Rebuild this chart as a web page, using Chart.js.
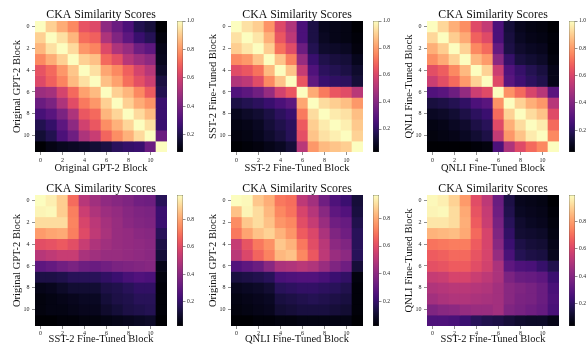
<!DOCTYPE html>
<html>
<head>
<meta charset="utf-8">
<script src="https://cdn.jsdelivr.net/npm/chart.js@4.4.1/dist/chart.umd.min.js"></script>
<style>
html, body { margin: 0; padding: 0; background: #fff; }
#fig { position: relative; width: 587px; height: 346px; overflow: hidden; }
#fig canvas { position: absolute; }
</style>
</head>
<body>
<div id="fig"></div>
<script>
// block indices and tick labels
const blocks = [0, 1, 2, 3, 4, 5, 6, 7, 8, 9, 10, 11];
const blockTicks = [0, 2, 4, 6, 8, 10];
const cbTicksTop = [0.2, 0.4, 0.6, 0.8, 1.0];
const cbTicksBottom = [0.2, 0.4, 0.6, 0.8];

// CKA scores, rows = y-axis block, cols = x-axis block
const origOrig = [
  [1.00, 0.91, 0.84, 0.77, 0.66, 0.63, 0.45, 0.37, 0.30, 0.21, 0.18, 0.08],
  [0.91, 1.00, 0.94, 0.86, 0.72, 0.69, 0.52, 0.42, 0.34, 0.26, 0.22, 0.10],
  [0.86, 0.94, 1.00, 0.93, 0.80, 0.76, 0.63, 0.52, 0.47, 0.38, 0.34, 0.12],
  [0.77, 0.84, 0.91, 1.00, 0.91, 0.88, 0.71, 0.65, 0.54, 0.49, 0.45, 0.13],
  [0.66, 0.71, 0.80, 0.89, 1.00, 0.94, 0.83, 0.77, 0.69, 0.61, 0.54, 0.15],
  [0.63, 0.69, 0.76, 0.87, 0.94, 1.00, 0.88, 0.82, 0.72, 0.65, 0.59, 0.19],
  [0.48, 0.50, 0.61, 0.71, 0.82, 0.87, 1.00, 0.91, 0.86, 0.77, 0.68, 0.21],
  [0.37, 0.41, 0.52, 0.64, 0.74, 0.80, 0.91, 1.00, 0.91, 0.84, 0.79, 0.26],
  [0.29, 0.33, 0.41, 0.52, 0.67, 0.71, 0.86, 0.92, 1.00, 0.93, 0.87, 0.26],
  [0.21, 0.25, 0.34, 0.45, 0.60, 0.67, 0.78, 0.85, 0.92, 1.00, 0.94, 0.26],
  [0.17, 0.21, 0.30, 0.38, 0.52, 0.58, 0.70, 0.78, 0.85, 0.93, 1.00, 0.37],
  [0.08, 0.11, 0.13, 0.14, 0.15, 0.17, 0.19, 0.23, 0.25, 0.26, 0.37, 1.00]
];
const sstSst = [
  [1.00, 0.94, 0.90, 0.78, 0.61, 0.50, 0.26, 0.15, 0.08, 0.07, 0.06, 0.03],
  [0.94, 1.00, 0.95, 0.84, 0.65, 0.53, 0.26, 0.15, 0.09, 0.07, 0.06, 0.04],
  [0.90, 0.95, 1.00, 0.90, 0.71, 0.62, 0.34, 0.17, 0.11, 0.10, 0.09, 0.05],
  [0.76, 0.79, 0.88, 1.00, 0.88, 0.74, 0.44, 0.22, 0.16, 0.14, 0.13, 0.08],
  [0.62, 0.65, 0.71, 0.86, 1.00, 0.88, 0.55, 0.27, 0.19, 0.17, 0.15, 0.11],
  [0.50, 0.53, 0.62, 0.76, 0.88, 1.00, 0.65, 0.31, 0.22, 0.20, 0.19, 0.13],
  [0.27, 0.30, 0.35, 0.44, 0.58, 0.65, 1.00, 0.83, 0.73, 0.65, 0.62, 0.52],
  [0.15, 0.17, 0.19, 0.22, 0.26, 0.30, 0.82, 1.00, 0.93, 0.90, 0.87, 0.79],
  [0.08, 0.10, 0.12, 0.15, 0.19, 0.22, 0.73, 0.93, 1.00, 0.96, 0.94, 0.87],
  [0.06, 0.07, 0.09, 0.13, 0.16, 0.19, 0.66, 0.90, 0.96, 1.00, 0.97, 0.89],
  [0.05, 0.06, 0.08, 0.11, 0.14, 0.18, 0.63, 0.88, 0.94, 0.97, 1.00, 0.91],
  [0.03, 0.04, 0.05, 0.07, 0.09, 0.13, 0.52, 0.79, 0.86, 0.88, 0.90, 1.00]
];
const qnliQnli = [
  [1.00, 0.92, 0.84, 0.77, 0.62, 0.55, 0.27, 0.14, 0.09, 0.07, 0.06, 0.04],
  [0.92, 1.00, 0.90, 0.83, 0.68, 0.62, 0.27, 0.15, 0.10, 0.08, 0.07, 0.05],
  [0.84, 0.90, 1.00, 0.91, 0.76, 0.70, 0.33, 0.16, 0.12, 0.10, 0.09, 0.05],
  [0.77, 0.83, 0.91, 1.00, 0.86, 0.80, 0.42, 0.22, 0.15, 0.13, 0.11, 0.06],
  [0.63, 0.67, 0.76, 0.86, 1.00, 0.91, 0.57, 0.28, 0.22, 0.18, 0.15, 0.08],
  [0.57, 0.63, 0.70, 0.80, 0.91, 1.00, 0.62, 0.30, 0.24, 0.20, 0.17, 0.08],
  [0.28, 0.30, 0.35, 0.44, 0.57, 0.62, 1.00, 0.78, 0.70, 0.60, 0.52, 0.30],
  [0.15, 0.16, 0.18, 0.21, 0.27, 0.30, 0.78, 1.00, 0.91, 0.84, 0.79, 0.52],
  [0.10, 0.11, 0.13, 0.16, 0.20, 0.23, 0.70, 0.91, 1.00, 0.93, 0.88, 0.62],
  [0.07, 0.08, 0.10, 0.12, 0.16, 0.19, 0.62, 0.84, 0.93, 1.00, 0.96, 0.70],
  [0.06, 0.07, 0.08, 0.10, 0.13, 0.16, 0.55, 0.79, 0.88, 0.96, 1.00, 0.76],
  [0.04, 0.04, 0.04, 0.04, 0.05, 0.06, 0.27, 0.50, 0.62, 0.70, 0.76, 1.00]
];
const origSst = [
  [0.98, 0.95, 0.88, 0.68, 0.50, 0.45, 0.41, 0.39, 0.37, 0.34, 0.33, 0.17],
  [0.96, 0.97, 0.88, 0.72, 0.55, 0.48, 0.44, 0.42, 0.39, 0.37, 0.36, 0.21],
  [0.91, 0.91, 0.91, 0.73, 0.58, 0.51, 0.46, 0.43, 0.40, 0.38, 0.37, 0.21],
  [0.78, 0.80, 0.81, 0.72, 0.60, 0.52, 0.47, 0.43, 0.42, 0.40, 0.39, 0.17],
  [0.61, 0.62, 0.64, 0.61, 0.54, 0.48, 0.45, 0.43, 0.42, 0.41, 0.40, 0.14],
  [0.50, 0.52, 0.54, 0.54, 0.47, 0.45, 0.43, 0.43, 0.42, 0.41, 0.40, 0.12],
  [0.29, 0.31, 0.34, 0.36, 0.33, 0.32, 0.34, 0.36, 0.37, 0.38, 0.39, 0.06],
  [0.14, 0.14, 0.15, 0.17, 0.17, 0.17, 0.19, 0.21, 0.24, 0.26, 0.25, 0.04],
  [0.06, 0.07, 0.09, 0.11, 0.11, 0.11, 0.14, 0.15, 0.17, 0.19, 0.19, 0.03],
  [0.04, 0.05, 0.06, 0.07, 0.08, 0.08, 0.12, 0.14, 0.15, 0.17, 0.17, 0.03],
  [0.04, 0.05, 0.05, 0.06, 0.07, 0.07, 0.10, 0.12, 0.14, 0.15, 0.16, 0.03],
  [0.02, 0.02, 0.03, 0.03, 0.04, 0.04, 0.05, 0.06, 0.07, 0.08, 0.09, 0.02]
];
const origQnli = [
  [0.97, 0.96, 0.86, 0.81, 0.70, 0.68, 0.51, 0.45, 0.33, 0.25, 0.21, 0.12],
  [0.85, 0.95, 0.90, 0.83, 0.73, 0.69, 0.57, 0.49, 0.39, 0.29, 0.26, 0.13],
  [0.74, 0.86, 0.90, 0.85, 0.76, 0.73, 0.60, 0.53, 0.43, 0.33, 0.31, 0.15],
  [0.70, 0.79, 0.85, 0.88, 0.82, 0.76, 0.64, 0.58, 0.47, 0.37, 0.33, 0.17],
  [0.53, 0.62, 0.70, 0.75, 0.86, 0.82, 0.70, 0.60, 0.50, 0.40, 0.37, 0.17],
  [0.50, 0.58, 0.66, 0.72, 0.83, 0.85, 0.73, 0.63, 0.51, 0.43, 0.40, 0.17],
  [0.26, 0.29, 0.32, 0.39, 0.47, 0.48, 0.50, 0.48, 0.43, 0.37, 0.33, 0.12],
  [0.13, 0.14, 0.15, 0.17, 0.24, 0.25, 0.26, 0.26, 0.24, 0.21, 0.19, 0.04],
  [0.07, 0.08, 0.09, 0.11, 0.17, 0.18, 0.19, 0.19, 0.18, 0.17, 0.15, 0.03],
  [0.05, 0.06, 0.07, 0.08, 0.13, 0.14, 0.15, 0.16, 0.15, 0.14, 0.13, 0.03],
  [0.04, 0.05, 0.06, 0.07, 0.11, 0.12, 0.13, 0.13, 0.13, 0.12, 0.11, 0.03],
  [0.02, 0.02, 0.03, 0.03, 0.04, 0.04, 0.05, 0.05, 0.05, 0.05, 0.05, 0.02]
];
const qnliSst = [
  [0.98, 0.96, 0.90, 0.79, 0.62, 0.53, 0.34, 0.16, 0.09, 0.08, 0.07, 0.04],
  [0.97, 0.98, 0.92, 0.82, 0.64, 0.55, 0.35, 0.17, 0.10, 0.09, 0.08, 0.05],
  [0.94, 0.94, 0.92, 0.83, 0.66, 0.56, 0.37, 0.19, 0.12, 0.10, 0.09, 0.06],
  [0.84, 0.85, 0.86, 0.82, 0.69, 0.59, 0.39, 0.21, 0.13, 0.12, 0.11, 0.07],
  [0.71, 0.72, 0.73, 0.73, 0.66, 0.59, 0.41, 0.23, 0.16, 0.14, 0.13, 0.08],
  [0.66, 0.67, 0.69, 0.69, 0.64, 0.59, 0.44, 0.26, 0.18, 0.16, 0.15, 0.09],
  [0.63, 0.64, 0.66, 0.66, 0.62, 0.58, 0.49, 0.31, 0.27, 0.26, 0.22, 0.17],
  [0.55, 0.56, 0.59, 0.59, 0.56, 0.53, 0.49, 0.38, 0.34, 0.33, 0.31, 0.23],
  [0.50, 0.51, 0.52, 0.52, 0.51, 0.50, 0.47, 0.41, 0.39, 0.37, 0.34, 0.26],
  [0.47, 0.49, 0.50, 0.50, 0.49, 0.48, 0.47, 0.41, 0.38, 0.37, 0.34, 0.27],
  [0.39, 0.41, 0.42, 0.44, 0.45, 0.45, 0.47, 0.39, 0.37, 0.35, 0.33, 0.26],
  [0.27, 0.27, 0.26, 0.23, 0.19, 0.17, 0.16, 0.14, 0.12, 0.11, 0.11, 0.08]
];

// magma colormap, 21 evenly spaced stops
const magmaStops = [
  '#000004', '#07061c', '#140e36', '#251255', '#3b0f70', '#51127c', '#641a80',
  '#782281', '#8c2981', '#a1307e', '#b73779', '#ca3e72', '#de4968', '#ed5a5f',
  '#f7705c', '#fc8961', '#fe9f6d', '#feb77e', '#fecf92', '#fde7a9', '#fcfdbf'
];

const panels = [
  { values: origOrig, vmin: 0.08, vmax: 1.00, cbTicks: cbTicksTop, xLabel: 'Original GPT-2 Block', yLabel: 'Original GPT-2 Block' },
  { values: sstSst, vmin: 0.03, vmax: 1.00, cbTicks: cbTicksTop, xLabel: 'SST-2 Fine-Tuned Block', yLabel: 'SST-2 Fine-Tuned Block' },
  { values: qnliQnli, vmin: 0.04, vmax: 1.00, cbTicks: cbTicksTop, xLabel: 'QNLI Fine-Tuned Block', yLabel: 'QNLI Fine-Tuned Block' },
  { values: origSst, vmin: 0.02, vmax: 0.98, cbTicks: cbTicksBottom, xLabel: 'SST-2 Fine-Tuned Block', yLabel: 'Original GPT-2 Block' },
  { values: origQnli, vmin: 0.02, vmax: 0.97, cbTicks: cbTicksBottom, xLabel: 'QNLI Fine-Tuned Block', yLabel: 'Original GPT-2 Block' },
  { values: qnliSst, vmin: 0.04, vmax: 0.99, cbTicks: cbTicksBottom, xLabel: 'SST-2 Fine-Tuned Block', yLabel: 'QNLI Fine-Tuned Block' }
];
const title = 'CKA Similarity Scores';

// where each heatmap / colorbar sits on the page (px)
const layout = [
  { hx: 35, hy: 21, hw: 132, hh: 131, cbx: 177, xAxisH: 24, tickPad: 2, titlePad: 2.75 },
  { hx: 231, hy: 21, hw: 132, hh: 131, cbx: 373, xAxisH: 24, tickPad: 2, titlePad: 2.75 },
  { hx: 427, hy: 21, hw: 132, hh: 131, cbx: 569, xAxisH: 24, tickPad: 2, titlePad: 2.75 },
  { hx: 35, hy: 195, hw: 132, hh: 131, cbx: 177, xAxisH: 20, tickPad: 1, titlePad: 1.3 },
  { hx: 231, hy: 195, hw: 132, hh: 131, cbx: 373, xAxisH: 20, tickPad: 1, titlePad: 1.3 },
  { hx: 427, hy: 195, hw: 132, hh: 131, cbx: 569, xAxisH: 20, tickPad: 1, titlePad: 1.3 }
];

const serif = "'Liberation Serif', 'Times New Roman', serif";
const ink = '#222';

function hexToRgb(h) {
  return [parseInt(h.slice(1, 3), 16), parseInt(h.slice(3, 5), 16), parseInt(h.slice(5, 7), 16)];
}
const magmaRgb = magmaStops.map(hexToRgb);

function magma(t) {
  t = Math.max(0, Math.min(1, t));
  const pos = t * (magmaRgb.length - 1);
  const i = Math.min(Math.floor(pos), magmaRgb.length - 2);
  const f = pos - i;
  const a = magmaRgb[i], b = magmaRgb[i + 1];
  const c = a.map((v, k) => Math.round(v + (b[k] - v) * f));
  return `rgb(${c[0]},${c[1]},${c[2]})`;
}

const fig = document.getElementById('fig');
function makeCanvas(left, top, w, h) {
  const c = document.createElement('canvas');
  c.width = w; c.height = h;
  c.style.left = left + 'px'; c.style.top = top + 'px';
  c.style.width = w + 'px'; c.style.height = h + 'px';
  fig.appendChild(c);
  return c;
}

function drawHeatmap(p, L) {
  const yAxisW = 35, titleH = 21, rightPad = 2;
  const canvas = makeCanvas(L.hx - yAxisW, L.hy - titleH, L.hw + yAxisW + rightPad, L.hh + titleH + L.xAxisH);

  const datasets = p.values.map((row, r) => ({
    data: row.map((v, c) => ({ x: blocks[c], y: [blocks[r] - 0.5, blocks[r] + 0.5] })),
    backgroundColor: row.map(v => magma((v - p.vmin) / (p.vmax - p.vmin))),
    borderWidth: 0,
    grouped: false,
    categoryPercentage: 1,
    barPercentage: 1
  }));

  const evenTicks = s => { s.ticks = blockTicks.map(v => ({ value: v })); };

  new Chart(canvas, {
    type: 'bar',
    data: { datasets },
    options: {
      responsive: false,
      animation: false,
      events: [],
      layout: { padding: { left: 0, right: rightPad, top: 0, bottom: 0 } },
      plugins: {
        legend: { display: false },
        tooltip: { enabled: false },
        title: {
          display: true, text: title, fullSize: false, color: '#111',
          font: { family: serif, size: 11.8, weight: 'normal', lineHeight: 1 },
          padding: { top: 8.6, bottom: 0.6 }
        }
      },
      scales: {
        x: {
          type: 'linear', min: -0.5, max: 11.5, offset: false,
          afterBuildTicks: evenTicks,
          afterFit: s => { s.height = L.xAxisH; },
          border: { display: false },
          grid: { offset: false, drawOnChartArea: false, tickLength: 3, color: '#444', lineWidth: 0.6 },
          ticks: { font: { family: serif, size: 6, lineHeight: 1 }, color: ink, padding: L.tickPad, maxRotation: 0, autoSkip: false },
          title: {
            display: true, text: p.xLabel, color: '#111',
            font: { family: serif, size: 10.5, lineHeight: 1 },
            padding: { top: 0, bottom: L.titlePad }
          }
        },
        y: {
          type: 'linear', reverse: true, min: -0.5, max: 11.5,
          afterBuildTicks: evenTicks,
          afterFit: s => { s.width = yAxisW; },
          border: { display: false },
          grid: { drawOnChartArea: false, tickLength: 3, color: '#444', lineWidth: 0.6 },
          ticks: { font: { family: serif, size: 6 }, color: ink, padding: 2.5, autoSkip: false },
          title: {
            display: true, text: p.yLabel, color: '#111',
            font: { family: serif, size: 10.5, lineHeight: 1 },
            padding: { top: 12, bottom: 0 }
          }
        }
      }
    }
  });
}

function drawColorbar(p, L) {
  const cbW = 6, axisW = 16, pad = 5;
  const canvas = makeCanvas(L.cbx, L.hy - pad, cbW + axisW, L.hh + 2 * pad);
  new Chart(canvas, {
    type: 'bar',
    data: {
      labels: ['cb'],
      datasets: [{
        data: [[p.vmin, p.vmax]],
        backgroundColor: ctx => {
          const chart = ctx.chart;
          if (!chart.chartArea) return magmaStops[10];
          const ys = chart.scales.y;
          const g = chart.ctx.createLinearGradient(0, ys.getPixelForValue(p.vmin), 0, ys.getPixelForValue(p.vmax));
          magmaStops.forEach((c, i) => g.addColorStop(i / (magmaStops.length - 1), c));
          return g;
        },
        borderColor: '#333',
        borderWidth: 0.6,
        borderSkipped: false,
        categoryPercentage: 1,
        barPercentage: 1
      }]
    },
    options: {
      responsive: false,
      animation: false,
      events: [],
      layout: { padding: { left: 0, right: 0, top: pad, bottom: pad } },
      plugins: { legend: { display: false }, tooltip: { enabled: false } },
      scales: {
        x: { display: false },
        y: {
          position: 'right', min: p.vmin, max: p.vmax,
          afterBuildTicks: s => { s.ticks = p.cbTicks.map(v => ({ value: v })); },
          afterFit: s => { s.width = axisW; },
          border: { display: false },
          grid: { drawOnChartArea: false, tickLength: 2.5, color: '#444', lineWidth: 0.6 },
          ticks: { font: { family: serif, size: 5.5 }, color: ink, padding: 1.5, callback: v => v.toFixed(1) }
        }
      }
    }
  });
}

panels.forEach((p, i) => {
  drawHeatmap(p, layout[i]);
  drawColorbar(p, layout[i]);
});
</script>
</body>
</html>
